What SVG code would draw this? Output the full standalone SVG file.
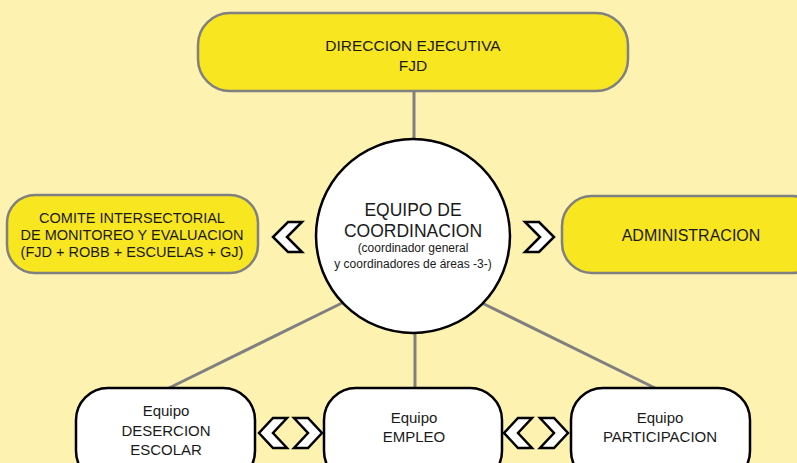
<svg xmlns="http://www.w3.org/2000/svg" width="797" height="463" viewBox="0 0 797 463">
<style>
text{font-family:"Liberation Sans",Arial,sans-serif;fill:#1a1a1a;text-anchor:middle}
.y{fill:#F8E620;stroke:#808080;stroke-width:2.5}
.w{fill:#fff;stroke:#000;stroke-width:2.5}
.c{stroke:#808080;stroke-width:3;fill:none}
.ch{fill:#fff;stroke:#000;stroke-width:2.5;stroke-linejoin:miter}
</style>
<rect width="797" height="463" fill="#FEF2B0"/>
<g id="connectors">
<line class="c" x1="414" y1="91" x2="414" y2="140"/>
<line class="c" x1="342" y1="303" x2="167" y2="389"/>
<line class="c" x1="415" y1="330" x2="415" y2="389"/>
<line class="c" x1="482" y1="303" x2="657" y2="389"/>
<polygon class="ch" points="288,222 302,222 287,237 302,252 288,252 273,237"/>
<polygon class="ch" points="525,222 539,222 554,237 539,252 525,252 540,237"/>
<polygon class="ch" points="273,418 287,418 273,433 287,448 273,448 259,433"/>
<polygon class="ch" points="294,418 308,418 322,433 308,448 294,448 308,433"/>
<polygon class="ch" points="518,418 532,418 518,433 532,448 518,448 504,433"/>
<polygon class="ch" points="540,418 554,418 568,433 554,448 540,448 554,433"/>
</g>
<g id="direccion">
<rect class="y" x="198" y="13" width="430" height="78" rx="32"/>
<text x="413" y="51" font-size="15.5">DIRECCION EJECUTIVA</text>
<text x="413" y="71" font-size="15.5">FJD</text>
</g>
<g id="comite">
<rect class="y" x="7" y="195" width="251" height="78" rx="28"/>
<text x="132" y="223" font-size="14.5">COMITE INTERSECTORIAL</text>
<text x="132" y="240" font-size="14.5">DE MONITOREO Y EVALUACION</text>
<text x="132" y="257" font-size="14.5">(FJD + ROBB + ESCUELAS + GJ)</text>
</g>
<g id="coordinacion">
<circle class="w" cx="413" cy="236" r="97"/>
<text x="413" y="216" font-size="17.5">EQUIPO DE</text>
<text x="413" y="237" font-size="17.5">COORDINACION</text>
<text x="413" y="252" font-size="12">(coordinador general</text>
<text x="413" y="268" font-size="12">y coordinadores de áreas -3-)</text>
</g>
<g id="administracion">
<rect class="y" x="562" y="196" width="260" height="77" rx="30"/>
<text x="691" y="241" font-size="16">ADMINISTRACION</text>
</g>
<g id="desercion">
<rect class="w" x="76" y="388" width="179" height="95" rx="32"/>
<text x="166" y="416" font-size="15">Equipo</text>
<text x="166" y="436" font-size="15">DESERCION</text>
<text x="166" y="455" font-size="15">ESCOLAR</text>
</g>
<g id="empleo">
<rect class="w" x="324" y="388" width="178" height="95" rx="32"/>
<text x="414" y="423" font-size="15">Equipo</text>
<text x="414" y="442" font-size="15">EMPLEO</text>
</g>
<g id="participacion">
<rect class="w" x="571" y="388" width="179" height="95" rx="32"/>
<text x="660" y="423" font-size="15">Equipo</text>
<text x="660" y="442" font-size="15">PARTICIPACION</text>
</g>
</svg>
